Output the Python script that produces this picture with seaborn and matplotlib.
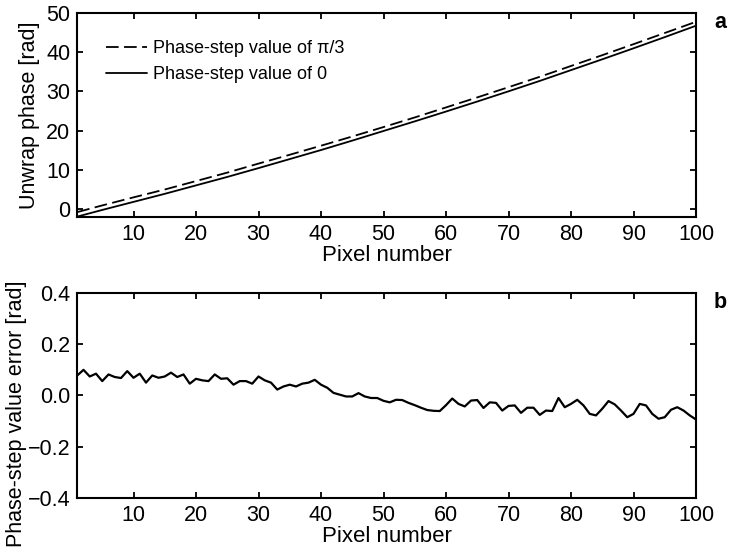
import numpy as np
import matplotlib
matplotlib.use("Agg")
import matplotlib.pyplot as plt
import pandas as pd
import seaborn as sns

# top panel: unwrapped phase, sampled every 5 pixels
pixel_coarse = [1, 5, 10, 15, 20, 25, 30, 35, 40, 45, 50,
                55, 60, 65, 70, 75, 80, 85, 90, 95, 100]
phase_pi3 = [-0.75, 0.95, 3.0, 5.0, 7.15, 9.3, 11.6, 13.85, 16.15, 18.5, 20.9,
             23.35, 25.9, 28.45, 31.05, 33.7, 36.45, 39.2, 42.0, 44.85, 47.7]
phase_zero = [-1.9, -0.2, 1.85, 3.9, 6.05, 8.2, 10.45, 12.75, 15.05, 17.45, 19.9,
              22.35, 24.85, 27.4, 30.0, 32.65, 35.4, 38.15, 40.95, 43.8, 46.7]

# bottom panel: phase-step value error for every pixel
pixel = list(range(1, 101))
step_error = [
    0.078, 0.100, 0.074, 0.085, 0.056, 0.082, 0.072, 0.068, 0.095, 0.069,
    0.085, 0.050, 0.078, 0.069, 0.074, 0.089, 0.072, 0.082, 0.046, 0.065,
    0.059, 0.056, 0.082, 0.065, 0.067, 0.042, 0.056, 0.056, 0.046, 0.074,
    0.059, 0.050, 0.023, 0.035, 0.042, 0.035, 0.046, 0.050, 0.061, 0.042,
    0.030, 0.010, 0.003, -0.004, -0.004, 0.009, -0.004, -0.010, -0.010, -0.021,
    -0.027, -0.017, -0.018, -0.029, -0.038, -0.048, -0.057, -0.060, -0.061, -0.038,
    -0.012, -0.033, -0.043, -0.020, -0.018, -0.049, -0.027, -0.029, -0.059, -0.041,
    -0.039, -0.068, -0.048, -0.048, -0.076, -0.059, -0.061, -0.010, -0.046, -0.033,
    -0.017, -0.039, -0.072, -0.078, -0.052, -0.022, -0.035, -0.059, -0.085, -0.072,
    -0.033, -0.039, -0.072, -0.091, -0.085, -0.056, -0.046, -0.059, -0.078, -0.094,
]

sns.set_style("ticks")
plt.rcParams["font.family"] = ["Liberation Sans", "DejaVu Sans"]
plt.rcParams["font.size"] = 16
plt.rcParams["axes.labelsize"] = 15.5
plt.rcParams["xtick.labelsize"] = 15.5
plt.rcParams["ytick.labelsize"] = 15.5
plt.rcParams["text.color"] = "black"
plt.rcParams["axes.labelcolor"] = "black"
plt.rcParams["axes.edgecolor"] = "black"
plt.rcParams["xtick.color"] = "black"
plt.rcParams["ytick.color"] = "black"
plt.rcParams["axes.linewidth"] = 1.5
plt.rcParams["xtick.direction"] = "in"
plt.rcParams["ytick.direction"] = "in"
plt.rcParams["xtick.major.size"] = 4
plt.rcParams["ytick.major.size"] = 4
plt.rcParams["xtick.major.width"] = 1.3
plt.rcParams["ytick.major.width"] = 1.3
plt.rcParams["xtick.major.pad"] = 5
plt.rcParams["ytick.major.pad"] = 5
plt.rcParams["xtick.top"] = True
plt.rcParams["ytick.right"] = True

fig = plt.figure(figsize=(7.5, 5.55), dpi=100)
ax1 = fig.add_axes([0.103, 0.609, 0.825, 0.368])
ax2 = fig.add_axes([0.103, 0.103, 0.825, 0.369])

df_top = pd.DataFrame({"pixel": pixel_coarse, "pi3": phase_pi3, "zero": phase_zero})
df_err = pd.DataFrame({"pixel": pixel, "err": step_error})

sns.lineplot(data=df_top, x="pixel", y="pi3", ax=ax1, color="black",
             linewidth=1.3, linestyle=(0, (7, 3)), label="Phase-step value of \u03c0/3")
sns.lineplot(data=df_top, x="pixel", y="zero", ax=ax1, color="black",
             linewidth=1.3, label="Phase-step value of 0")
ax1.set_xlim(1, 100)
ax1.set_ylim(-2, 50)
ax1.set_xticks(range(10, 101, 10))
ax1.set_yticks(range(0, 51, 10))
ax1.set_xlabel("Pixel number", labelpad=0, fontsize=16)
ax1.set_ylabel("Unwrap phase [rad]")
ax1.yaxis.set_label_coords(-0.06, 0.5)
ax1.legend(loc="upper left", frameon=False, fontsize=13, handlelength=2.3,
           handletextpad=0.35, bbox_to_anchor=(0.034, 0.90), borderaxespad=0,
           labelspacing=0.5)

sns.lineplot(data=df_err, x="pixel", y="err", ax=ax2, color="black", linewidth=1.6)
ax2.set_xlim(1, 100)
ax2.set_ylim(-0.4, 0.4)
ax2.set_xticks(range(10, 101, 10))
ax2.set_yticks([-0.4, -0.2, 0.0, 0.2, 0.4])
ax2.set_xlabel("Pixel number", labelpad=0, fontsize=16)
ax2.set_ylabel("Phase-step value error [rad]")
ax2.yaxis.set_label_coords(-0.082, 0.41)

fig.text(0.952, 0.96, "a", fontsize=15.5, fontweight="bold", va="center")
fig.text(0.952, 0.455, "b", fontsize=15.5, fontweight="bold", va="center")

fig.savefig("out.png", dpi=100)
